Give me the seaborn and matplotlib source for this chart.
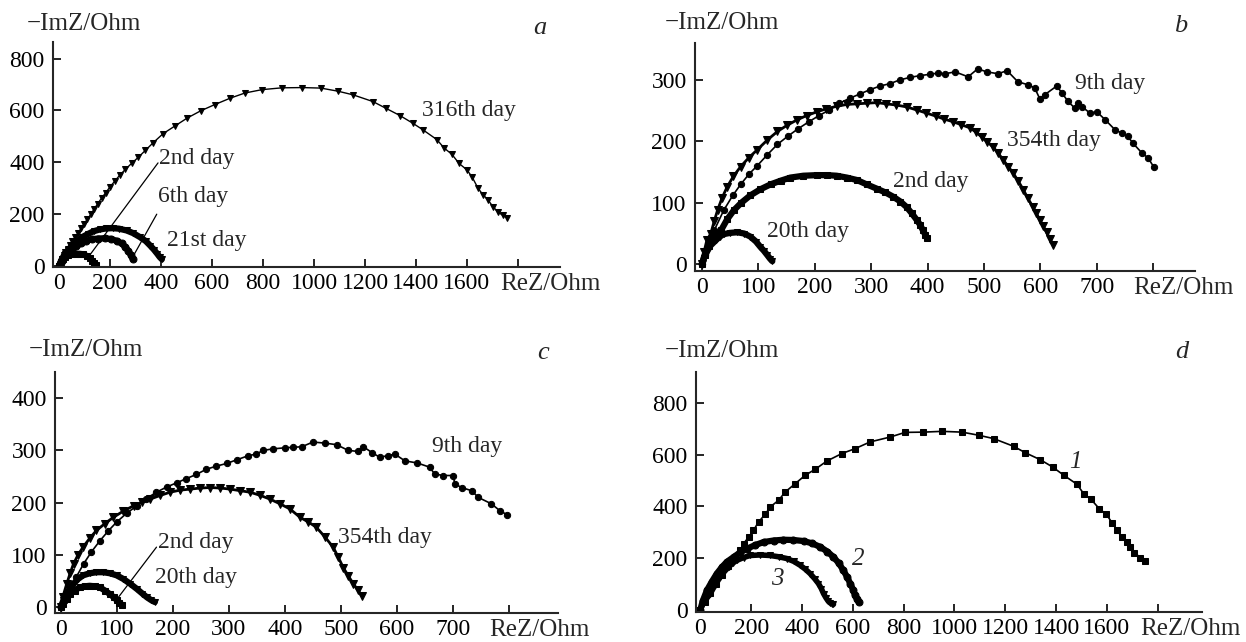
import matplotlib
matplotlib.use("Agg")
import matplotlib.pyplot as plt
import seaborn as sns

# ---- panel a ----
a316_x = [0, 6, 12, 18, 25, 33, 42, 52, 63, 74, 86, 98, 111, 124, 138, 152, 167, 183, 200, 218,
          238, 260, 284, 310, 338, 369, 408, 455, 502, 555, 610, 671, 729, 796, 874, 953, 1027, 1094, 1153, 1231,
          1282, 1337, 1388, 1427, 1482, 1510, 1541, 1569, 1600, 1620, 1643, 1662, 1682, 1702, 1722, 1740, 1757]
a316_y = [0, 14, 27, 40, 53, 66, 80, 95, 110, 125, 145, 162, 180, 198, 220, 240, 262, 282, 305, 326,
          350, 372, 395, 418, 445, 475, 510, 540, 570, 598, 622, 647, 667, 680, 687, 688, 686, 674, 660, 634,
          608, 580, 550, 525, 487, 455, 430, 395, 370, 343, 300, 275, 255, 228, 207, 195, 185]
a2_x = [0, 6, 14, 24, 36, 50, 65, 80, 95, 108, 120, 130, 138, 143]
a2_y = [0, 14, 25, 34, 40, 44, 46, 46, 44, 38, 29, 19, 9, 4]
a6_x = [0, 10, 22, 35, 50, 67, 86, 106, 128, 152, 180, 205, 226, 245, 260, 272, 282, 288]
a6_y = [0, 20, 36, 48, 62, 75, 86, 96, 102, 105, 106, 103, 96, 86, 72, 57, 40, 27]
a21_x = [0, 10, 22, 36, 52, 70, 90, 112, 135, 160, 185, 210, 235, 265, 290, 318, 340, 357, 372, 385, 395, 403]
a21_y = [0, 24, 45, 62, 78, 94, 110, 122, 133, 140, 144, 145, 143, 136, 126, 110, 95, 78, 62, 46, 33, 25]

# ---- panel b ----
b9_x = [0, 5, 12, 22, 39, 55, 69, 84, 98, 116, 134, 152, 170, 190, 208, 226, 244, 262, 280, 298,
        316, 334, 351, 369, 387, 404, 418, 431, 449, 472, 489, 505, 525, 541, 560, 578, 590, 599, 608, 629,
        638, 649, 661, 667, 674, 688, 700, 715, 732, 745, 755, 764, 780, 791, 801]
b9_y = [0, 15, 32, 55, 88, 112, 130, 147, 160, 178, 195, 208, 220, 232, 242, 251, 262, 270, 277, 284,
        290, 294, 300, 304, 307, 309, 311, 310, 313, 305, 318, 313, 310, 315, 297, 292, 287, 269, 276, 290,
        279, 265, 254, 262, 256, 246, 248, 235, 219, 213, 208, 197, 181, 173, 158]
b354_x = [0, 4, 9, 16, 22, 28, 36, 45, 56, 69, 83, 98, 116, 134, 151, 169, 186, 204, 221, 239,
          257, 275, 292, 310, 327, 345, 363, 381, 398, 415, 430, 445, 460, 475, 486, 496, 506, 516, 525, 534,
          543, 552, 561, 570, 578, 587, 593, 599, 605, 611, 617, 623]
b354_y = [0, 20, 39, 50, 70, 88, 108, 126, 143, 159, 173, 186, 202, 216, 226, 235, 242, 248, 253, 257,
          260, 261, 262, 263, 261, 259, 256, 251, 246, 241, 236, 232, 227, 222, 215, 207, 199, 191, 181, 170,
          159, 148, 135, 121, 107, 93, 83, 72, 62, 52, 41, 31]
b2_x = [0, 5, 12, 22, 34, 45, 57, 70, 86, 104, 122, 140, 157, 180, 204, 222, 239, 257, 275, 292,
        310, 325, 339, 352, 363, 372, 381, 387, 392, 396, 399]
b2_y = [0, 15, 30, 44, 55, 73, 88, 100, 112, 122, 130, 136, 141, 144, 145, 145, 144, 141, 137, 130,
        123, 117, 110, 102, 93, 83, 72, 64, 55, 48, 42]
b20_x = [0, 4, 9, 15, 25, 32, 39, 50, 63, 75, 86, 96, 104, 110, 116, 121, 125]
b20_y = [0, 10, 20, 30, 39, 45, 49, 51, 52, 50, 45, 37, 28, 22, 15, 9, 5]

# ---- panel c ----
c9_x = [0, 6, 12, 17, 28, 41, 55, 70, 85, 100, 118, 136, 153, 171, 189, 207, 224, 242, 260, 278,
        296, 314, 335, 349, 361, 379, 400, 415, 430, 450, 471, 492, 513, 531, 540, 555, 569, 584, 596, 614,
        636, 658, 667, 682, 700, 703, 715, 733, 745, 768, 783, 796]
c9_y = [0, 12, 22, 32, 58, 83, 106, 127, 146, 163, 180, 194, 208, 220, 230, 238, 246, 254, 264, 270,
        275, 282, 290, 293, 300, 303, 305, 306, 307, 316, 314, 311, 300, 298, 307, 296, 287, 290, 293, 280,
        276, 268, 255, 252, 252, 236, 229, 223, 210, 198, 185, 177]
c354_x = [0, 4, 11, 17, 23, 31, 40, 52, 64, 79, 94, 112, 130, 145, 160, 178, 195, 213, 231, 249,
          267, 285, 302, 320, 338, 356, 373, 391, 409, 427, 442, 456, 471, 486, 495, 504, 513, 522, 530, 537]
c354_y = [0, 20, 45, 65, 83, 100, 115, 132, 147, 160, 172, 184, 194, 201, 207, 214, 220, 224, 226, 228,
          229, 228, 226, 223, 220, 214, 207, 198, 188, 172, 163, 153, 135, 115, 96, 76, 60, 45, 33, 22]
c2_x = [0, 5, 11, 17, 25, 34, 43, 52, 61, 70, 79, 88, 95, 100, 105, 109]
c2_y = [0, 6, 16, 25, 32, 38, 40, 41, 40, 38, 32, 25, 19, 14, 9, 5]
c20_x = [0, 5, 13, 23, 31, 40, 52, 64, 76, 88, 100, 112, 124, 136, 146, 154, 161, 168]
c20_y = [0, 13, 30, 45, 54, 61, 65, 67, 67, 65, 61, 54, 45, 35, 26, 19, 14, 10]

# ---- panel d ----
d1_x = [0, 19, 40, 62, 85, 108, 131, 157, 170, 190, 209, 229, 255, 275, 308, 334, 373, 413, 452, 498,
        557, 609, 668, 747, 806, 878, 951, 1030, 1095, 1154, 1233, 1279, 1338, 1386, 1430, 1482, 1508, 1537, 1570, 1598,
        1620, 1640, 1659, 1679, 1692, 1708, 1731, 1751]
d1_y = [0, 30, 65, 100, 135, 170, 200, 230, 256, 281, 307, 340, 369, 398, 424, 456, 488, 521, 544, 576,
        605, 624, 650, 669, 687, 688, 691, 688, 676, 663, 633, 608, 581, 553, 521, 486, 450, 428, 391, 369,
        337, 307, 281, 262, 243, 221, 202, 188]
d2_x = [0, 10, 26, 45, 65, 85, 104, 131, 157, 183, 215, 249, 288, 327, 366, 406, 440, 472, 500, 524,
        545, 563, 578, 590, 601, 609, 617, 623]
d2_y = [0, 35, 75, 108, 140, 165, 185, 204, 222, 236, 250, 262, 268, 271, 270, 266, 257, 243, 225, 204,
        180, 152, 126, 101, 78, 55, 40, 29]
d3_x = [0, 10, 24, 39, 58, 78, 95, 111, 127, 144, 170, 196, 235, 275, 308, 341, 368, 393, 413, 432,
        450, 465, 476, 485, 495, 504, 511, 518, 524]
d3_y = [0, 22, 42, 62, 95, 126, 148, 165, 180, 191, 202, 210, 212, 210, 205, 198, 187, 172, 157, 140,
        120, 101, 82, 62, 45, 32, 26, 23, 21]

sns.set_style("ticks")
plt.rcParams["font.family"] = ["Liberation Serif", "DejaVu Serif"]
plt.rcParams["axes.linewidth"] = 1.5

FS = 17      # curve labels
TFS = 17     # tick labels
NFS = 18     # axis names
W, H = 1246, 642


def make_axes(fig, x0, x1, ytop, ybot):
    return fig.add_axes([x0 / W, 1 - ybot / H, (x1 - x0) / W, (ybot - ytop) / H])


def style_axes(ax, xlim, ylim, xticks, yticks, rez_x):
    ax.set_xlim(*xlim)
    ax.set_ylim(*ylim)
    ax.set_xticks(xticks)
    ax.set_xticklabels([str(t) for t in xticks[:-1]] + [""])
    ax.set_yticks(yticks)
    ax.set_yticklabels([str(t) for t in yticks])
    sns.despine(ax=ax)
    ax.tick_params(direction="in", length=6, width=1.2, labelsize=TFS, colors="black")
    ax.tick_params(axis="x", pad=4)
    ax.tick_params(axis="y", pad=6)
    ax.set_xlabel("")
    ax.set_ylabel("")
    ax.annotate("ReZ/Ohm", xy=(rez_x, 0), xycoords=("data", "axes fraction"),
                xytext=(0, -4.2), textcoords="offset points", ha="left", va="top", fontsize=NFS)


def curve(ax, x, y, marker, ms, lw):
    sns.lineplot(x=x, y=y, ax=ax, sort=False, estimator=None, color="black",
                 marker=marker, markersize=ms, markeredgecolor="black", linewidth=lw)


def leader(ax, start, end):
    ax.annotate("", xy=end, xytext=start,
                arrowprops=dict(arrowstyle="-", lw=0.9, color="black", shrinkA=0, shrinkB=0))


fig = plt.figure(figsize=(W / 100, H / 100), dpi=100)

# panel a
ax = make_axes(fig, 53, 560, 42, 267)
curve(ax, a21_x, a21_y, "v", 5, 4.5)
curve(ax, a6_x, a6_y, "o", 5, 4.5)
curve(ax, a2_x, a2_y, "s", 5, 4.5)
curve(ax, a316_x, a316_y, "v", 5, 1)
style_axes(ax, (-24, 1965), (-5, 864), list(range(0, 2000, 200)), [0, 200, 400, 600, 800], 1729)
ax.text(1422, 601, "316th day", fontsize=FS, ha="left", va="center")
ax.text(392, 414, "2nd day", fontsize=FS, ha="left", va="center")
ax.text(388, 268, "6th day", fontsize=FS, ha="left", va="center")
ax.text(424, 96, "21st day", fontsize=FS, ha="left", va="center")
leader(ax, (388, 397), (115, 34))
leader(ax, (383, 199), (285, 27))

# panel b
ax = make_axes(fig, 695, 1195, 43, 271)
curve(ax, b2_x, b2_y, "s", 5, 4.5)
curve(ax, b20_x, b20_y, "v", 5, 4.5)
curve(ax, b354_x, b354_y, "v", 6, 2)
curve(ax, b9_x, b9_y, "o", 4.5, 1.2)
style_axes(ax, (-12, 874), (-11, 360), list(range(0, 900, 100)), [0, 100, 200, 300], 764)
ax.text(661, 294, "9th day", fontsize=FS, ha="left", va="center")
ax.text(540, 202, "354th day", fontsize=FS, ha="left", va="center")
ax.text(339, 134, "2nd day", fontsize=FS, ha="left", va="center")
ax.text(115, 53, "20th day", fontsize=FS, ha="left", va="center")

# panel c
ax = make_axes(fig, 55, 558, 372, 613)
curve(ax, c20_x, c20_y, "v", 5, 4.5)
curve(ax, c2_x, c2_y, "s", 5, 4.5)
curve(ax, c354_x, c354_y, "v", 6, 2)
curve(ax, c9_x, c9_y, "o", 4.5, 1.2)
style_axes(ax, (-10, 887), (-11, 450), list(range(0, 900, 100)), [0, 100, 200, 300, 400], 765)
ax.text(663, 307, "9th day", fontsize=FS, ha="left", va="center")
ax.text(495, 133, "354th day", fontsize=FS, ha="left", va="center")
ax.text(174, 124, "2nd day", fontsize=FS, ha="left", va="center")
ax.text(168, 56, "20th day", fontsize=FS, ha="left", va="center")
leader(ax, (171, 115), (103, 19))

# panel d
ax = make_axes(fig, 696, 1202, 372, 612)
curve(ax, d2_x, d2_y, "o", 5, 4.5)
curve(ax, d3_x, d3_y, "v", 5, 4)
curve(ax, d1_x, d1_y, "s", 4.5, 1.2)
style_axes(ax, (-17, 1974), (-9, 921), list(range(0, 2000, 200)), [0, 200, 400, 600, 800], 1731)
ax.text(1476, 572, "1", fontsize=18, fontstyle="italic", ha="center", va="center")
ax.text(622, 198, "2", fontsize=18, fontstyle="italic", ha="center", va="center")
ax.text(304, 120, "3", fontsize=18, fontstyle="italic", ha="center", va="center")

# axis titles and panel letters
for px, py in [(84, 24), (722, 23), (86, 350), (722, 351)]:
    fig.text(px / W, 1 - py / H, "\u2212ImZ/Ohm", fontsize=NFS, ha="center", va="center")
for letter, px, py in [("a", 540, 28), ("b", 1181, 26), ("c", 543, 353), ("d", 1182, 352)]:
    fig.text(px / W, 1 - py / H, letter, fontsize=19, fontstyle="italic", ha="center", va="center")

fig.savefig("out.png", dpi=100, facecolor="white")
